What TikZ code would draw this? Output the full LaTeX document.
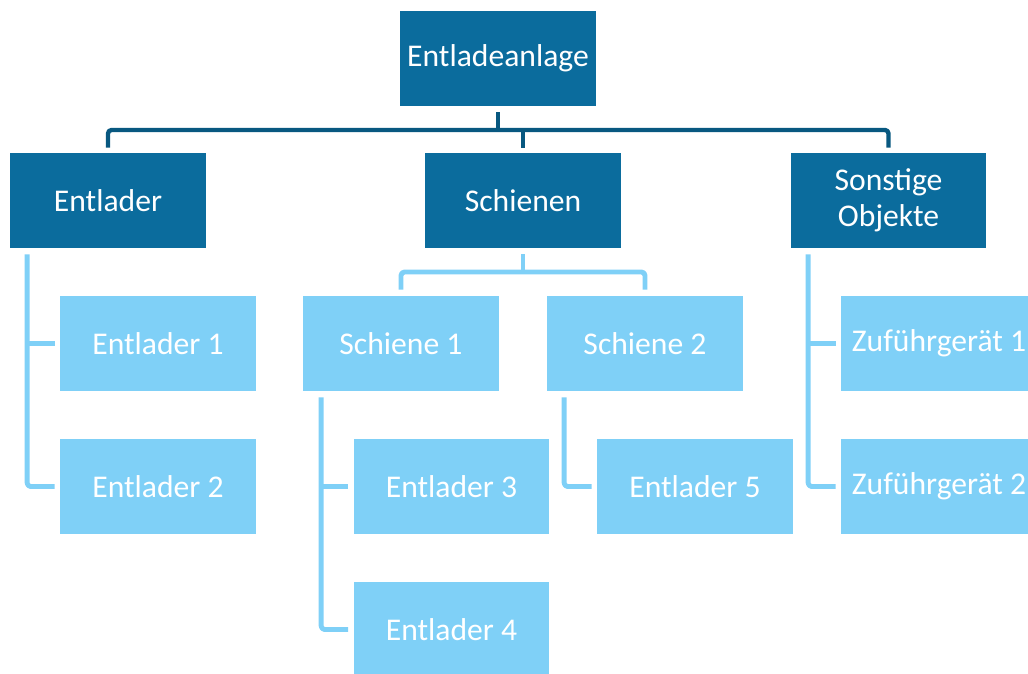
\documentclass[tikz,border=0pt]{standalone}
\usepackage{fontspec}
\setmainfont{Carlito}
\usetikzlibrary{calc}
\definecolor{boxdark}{RGB}{11,108,157}
\definecolor{linedark}{RGB}{8,88,128}
\definecolor{boxlight}{RGB}{127,208,247}
\definecolor{linelight}{RGB}{127,208,247}
\begin{document}
\begin{tikzpicture}[x=0.02cm,y=-0.02cm,
  unit/.style={rectangle,minimum width=3.92cm,minimum height=1.9cm,inner sep=0pt,
    text=white,align=center,font=\fontsize{18}{20.5}\selectfont},
  headunit/.style={unit,fill=boxdark},
  subunit/.style={unit,fill=boxlight},
  darkline/.style={draw=linedark,line width=2.5pt,rounded corners=2pt,line join=round},
  lightline/.style={draw=linelight,line width=2.8pt,rounded corners=2pt,line join=round}]
\useasboundingbox (0,0) rectangle (1028,673);
\clip (0,0) rectangle (1028,673);

% top level and second level
\node[headunit] (top) at (498,58.5) {Entladeanlage};
\node[headunit] (ent) at (108,200.5) {Entlader};
\node[headunit] (sch) at (523,200.5) {Schienen};
\node[headunit] (son) at (888.5,200.5) {Sonstige\\Objekte};

% third level
\node[subunit] (e1) at (158,343.5) {Entlader 1};
\node[subunit] (e2) at (158,486.5) {Entlader 2};
\node[subunit] (s1) at (401,343.5) {Schiene 1};
\node[subunit] (s2) at (645,343.5) {Schiene 2};
\node[subunit] (z1) at (939,343.5) {Zuführgerät 1};
\node[subunit] (z2) at (939,486.5) {Zuführgerät 2};

% fourth level
\node[subunit] (e3) at (451.5,486.5) {Entlader 3};
\node[subunit] (e4) at (451.5,629.5) {Entlader 4};
\node[subunit] (e5) at (695,486.5) {Entlader 5};

% bus below the root
\coordinate (bus) at (0,130);
\draw[darkline] ($(top.south)+(0,6)$) -- (top.south |- bus);
\draw[darkline] ($(ent.north)+(0,-5)$) -- (ent.north |- bus)
  -- (son.north |- bus) -- ($(son.north)+(0,-5)$);
\draw[darkline] (sch.north |- bus) -- ($(sch.north)+(0,-5)$);

% Entlader branch
\coordinate (entstem) at ($(ent.south west)+(17.5,6)$);
\draw[lightline] (entstem) |- ($(e2.west)+(-5,0)$);
\draw[lightline] (entstem |- e1.west) -- ($(e1.west)+(-5,0)$);

% Schienen branch
\coordinate (bus2) at (0,272);
\draw[lightline] ($(sch.south)+(0,6)$) -- (sch.south |- bus2);
\draw[lightline] ($(s1.north)+(0,-6)$) -- (s1.north |- bus2)
  -- (s2.north |- bus2) -- ($(s2.north)+(0,-6)$);

\coordinate (s1stem) at ($(s1.south west)+(18.5,6)$);
\draw[lightline] (s1stem) |- ($(e4.west)+(-5,0)$);
\draw[lightline] (s1stem |- e3.west) -- ($(e3.west)+(-5,0)$);

\coordinate (s2stem) at ($(s2.south west)+(17.5,6)$);
\draw[lightline] (s2stem) |- ($(e5.west)+(-5,0)$);

% Sonstige Objekte branch
\coordinate (sonstem) at ($(son.south west)+(18,6)$);
\draw[lightline] (sonstem) |- ($(z2.west)+(-5,0)$);
\draw[lightline] (sonstem |- z1.west) -- ($(z1.west)+(-5,0)$);
\end{tikzpicture}
\end{document}
